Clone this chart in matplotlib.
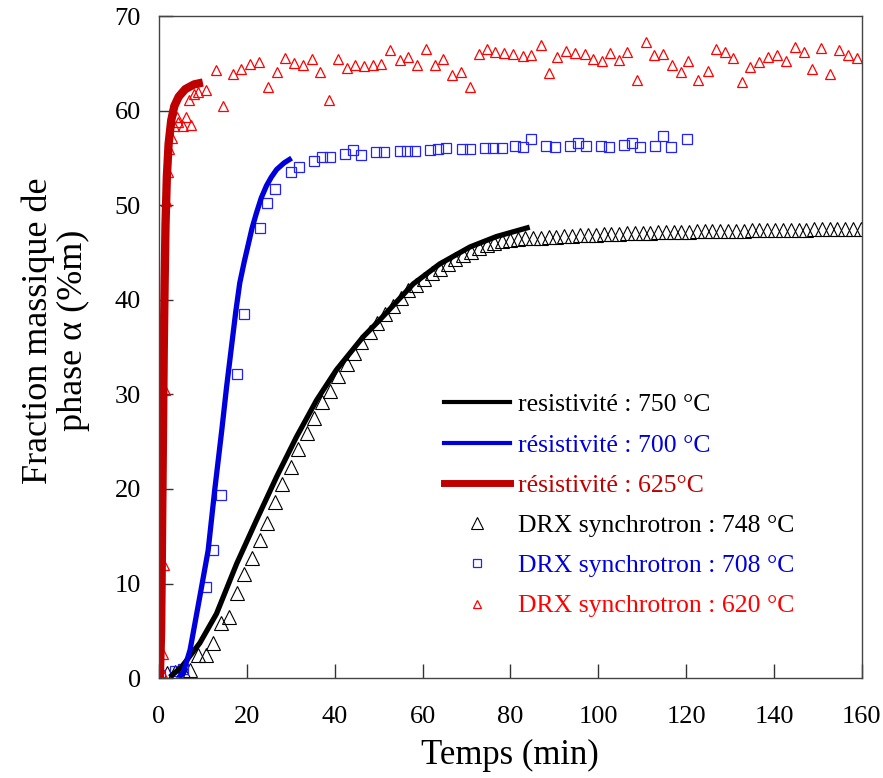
import matplotlib
matplotlib.use("Agg")
import matplotlib.pyplot as plt
from matplotlib.lines import Line2D

plt.rcParams['font.family'] = ['Liberation Serif', 'DejaVu Serif']

# resistivity curves
res750_x = [2.5, 5.2, 9.3, 13.1, 17.7, 22.2, 26.8, 31.3, 35.9, 40.4, 46.5, 50.3, 57.9, 63.9, 70.8, 76.8, 84.4]
res750_y = [0.1, 1.2, 3.7, 6.8, 12.1, 16.7, 21.3, 25.5, 29.4, 32.6, 36.1, 37.9, 41.7, 43.8, 45.6, 46.7, 47.7]

res700_x = [4.5, 5.5, 7.1, 9.3, 11.2, 12.7, 14.3, 15.4, 16.5, 17.5, 18.4, 19.4, 20.3, 21.2, 22.2,
            23.3, 24.5, 25.6, 26.8, 28.5, 30.2]
res700_y = [0.0, 0.5, 3.0, 8.6, 13.5, 19.9, 26.2, 30.8, 35.0, 38.8, 41.8, 44.0, 45.8, 47.6, 49.2,
            50.8, 52.1, 53.0, 53.8, 54.5, 55.0]

res625_x = [0.2, 0.5, 0.7, 0.9, 1.1, 1.3, 1.5, 1.8, 2.2, 2.8, 3.5, 4.5, 6.0, 8.0, 10.0]
res625_y = [0.0, 5.0, 15.0, 25.0, 35.0, 42.0, 48.0, 53.0, 56.5, 59.0, 60.5, 61.5, 62.3, 62.8, 63.0]

# DRX synchrotron 748 C
drx748_x = [0, 1.8, 3.6, 5.4, 7.1, 8.9, 10.7, 12.4, 14.1, 15.9, 17.7, 19.4, 21.2, 23.0, 24.6,
            26.5, 28.1, 30.0, 31.7, 33.6, 35.3, 37.2, 38.9, 40.8, 42.7, 44.4, 46.1, 48.0, 49.7,
            51.5, 53.3, 55.0, 56.8, 58.6, 60.4, 62.1, 63.9, 65.7, 67.5, 69.2, 71.0, 72.8, 74.6,
            76.3, 78.1, 79.9, 81.7, 83.4, 85.2, 87.0, 88.8, 90.5, 92.3, 94.1, 95.9, 97.6, 99.4,
            101.2, 103.0, 104.7, 106.5, 108.3, 110.1, 111.8, 113.6, 115.4, 117.2, 118.9, 120.7,
            122.5, 124.3, 126.0, 127.8, 129.6, 131.4, 133.1, 134.9, 136.7, 138.5, 140.2, 142.0,
            143.8, 145.6, 147.3, 149.1, 150.9, 152.7, 154.4, 156.2, 158.0, 159.8]
drx748_y = [0.3, 0.5, 0.6, 0.7, 0.9, 2.4, 2.4, 3.7, 5.8, 6.5, 9.0, 11.0, 12.7, 14.6, 16.4,
            18.6, 20.5, 22.3, 24.2, 25.9, 27.5, 29.2, 30.4, 32.0, 33.2, 34.4, 35.6, 36.6, 37.6,
            38.5, 39.4, 40.2, 41.0, 41.6, 42.2, 42.8, 43.3, 43.8, 44.3, 44.7, 45.1, 45.5, 45.8,
            46.0, 46.2, 46.3, 46.4, 46.5, 46.55, 46.6, 46.65, 46.7, 46.75, 46.8, 46.85, 46.9, 46.9,
            46.95, 47.0, 47.0, 47.05, 47.1, 47.1, 47.1, 47.15, 47.15, 47.2, 47.2, 47.2,
            47.25, 47.25, 47.25, 47.3, 47.3, 47.3, 47.3, 47.35, 47.35, 47.35, 47.35, 47.4,
            47.4, 47.4, 47.4, 47.45, 47.45, 47.45, 47.5, 47.5, 47.5, 47.5]

# DRX synchrotron 708 C
drx708_x = [0.2, 3.6, 5.5, 10.7, 12.4, 14.1, 17.7, 19.4, 23.0, 24.6, 26.5, 30.0, 31.8, 35.3,
            37.1, 38.9, 42.4, 44.2, 45.9, 49.5, 51.3, 54.8, 56.5, 58.2, 61.8, 63.6, 65.3,
            68.9, 70.8, 74.2, 76.0, 78.0, 81.1, 82.9, 84.8, 88.2, 90.1, 93.5, 95.4, 97.2,
            100.6, 102.5, 105.8, 107.6, 109.5, 112.9, 114.8, 116.6, 120.1]
drx708_y = [0.3, 0.7, 1.0, 9.6, 13.5, 19.4, 32.2, 38.5, 47.6, 50.3, 51.7, 53.5, 54.1, 54.7,
            55.1, 55.1, 55.4, 55.9, 55.3, 55.6, 55.6, 55.8, 55.8, 55.8, 55.9, 56.0, 56.1,
            56.0, 56.0, 56.1, 56.1, 56.1, 56.3, 56.2, 57.0, 56.3, 56.2, 56.3, 56.6, 56.3,
            56.3, 56.2, 56.4, 56.6, 56.2, 56.3, 57.3, 56.2, 57.0]

# DRX synchrotron 620 C
drx620_x = [0.0, 0.6, 1.0, 1.1, 1.3, 1.5, 2.0, 2.4, 3.0, 3.5, 4.0, 4.3, 5.4, 6.1, 7.2, 6.9,
            8.0, 8.9, 10.7, 13.0, 14.6, 16.8, 18.7, 20.7, 22.7, 24.8, 26.9, 28.7, 30.7, 32.7,
            34.8, 36.6, 38.7, 40.7, 42.7, 44.7, 46.7, 48.8, 50.6, 52.7, 54.8, 56.7, 58.7, 60.8,
            62.8, 64.6, 66.7, 68.7, 70.8, 72.8, 74.6, 76.6, 78.6, 80.7, 82.8, 84.8, 86.9, 88.7,
            90.7, 92.7, 94.7, 96.9, 98.8, 100.8, 102.6, 104.7, 106.6, 108.8, 110.8, 112.7,
            114.7, 116.7, 118.8, 120.5, 122.7, 124.9, 126.7, 128.8, 130.7, 132.8, 134.6, 136.6,
            138.7, 140.7, 142.7, 144.7, 146.8, 148.6, 150.7, 152.8, 154.8, 156.8, 158.8]
drx620_y = [0.3, 0.5, 2.5, 12.0, 30.5, 50.5, 53.5, 56.0, 57.1, 58.4, 59.3, 58.8, 58.4, 59.4,
            58.5, 61.2, 61.8, 62.0, 62.2, 64.3, 60.5, 63.9, 64.4, 65.0, 65.2, 62.5, 64.1, 65.6,
            65.1, 64.9, 65.5, 64.1, 61.1, 65.5, 64.5, 64.8, 64.7, 64.9, 65.0, 66.4, 65.4, 65.7,
            64.9, 66.5, 64.8, 65.5, 63.8, 64.1, 62.5, 66.0, 66.5, 66.2, 66.1, 66.0, 65.8, 65.9,
            67.0, 64.0, 65.7, 66.3, 66.1, 66.0, 65.5, 65.3, 66.1, 65.4, 66.2, 63.3, 67.3, 65.9,
            66.0, 64.8, 64.1, 65.3, 63.3, 64.2, 66.5, 66.2, 65.6, 63.1, 64.6, 65.2, 65.7, 65.9,
            65.3, 66.8, 66.2, 64.4, 66.7, 63.9, 66.4, 65.9, 65.6]

labels = ['resistivité : 750 °C', 'résistivité : 700 °C', 'résistivité : 625°C',
          'DRX synchrotron : 748 °C', 'DRX synchrotron : 708 °C', 'DRX synchrotron : 620 °C']

fig = plt.figure(figsize=(8.83, 7.78), dpi=100)
ax = fig.add_axes([0.180, 0.1285, 0.796, 0.8505])

ax.plot(drx748_x, drx748_y, linestyle='none', marker='^', markersize=9.5,
        markerfacecolor='none', markeredgecolor='black', markeredgewidth=0.8)
ax.plot(drx708_x, drx708_y, linestyle='none', marker='s', markersize=7,
        markerfacecolor='none', markeredgecolor='#2222ff', markeredgewidth=0.9)
ax.plot(drx620_x, drx620_y, linestyle='none', marker='^', markersize=7.5,
        markerfacecolor='none', markeredgecolor='#ff0000', markeredgewidth=0.9)

ax.plot(res750_x, res750_y, color='black', lw=3.8, solid_capstyle='butt')
ax.plot(res700_x, res700_y, color='#0000dd', lw=3.8, solid_capstyle='butt')
ax.plot(res625_x, res625_y, color='#c00000', lw=6, solid_capstyle='butt')

ax.set_xlim(0, 160)
ax.set_ylim(0, 70)
ax.set_xticks(range(0, 161, 20))
ax.set_yticks(range(0, 71, 10))
ax.tick_params(direction='in', length=10, width=1, labelsize=19, color='#333333')
ax.tick_params(axis='x', pad=20)
ax.tick_params(axis='y', pad=13)
for s in ax.spines.values():
    s.set_color('#444444')
    s.set_linewidth(1)

ax.set_xlabel('Temps (min)', fontsize=25, labelpad=8)
ax.set_ylabel('Fraction massique de\nphase α (%m)', fontsize=26, linespacing=1.1,
              va='center', ha='center')
ax.yaxis.set_label_coords(-0.147, 0.525)

handles = [
    Line2D([], [], color='black', lw=3),
    Line2D([], [], color='#0000dd', lw=3),
    Line2D([], [], color='#c00000', lw=5),
    Line2D([], [], linestyle='none', marker='^', markersize=8, markerfacecolor='none',
           markeredgecolor='black', markeredgewidth=0.8),
    Line2D([], [], linestyle='none', marker='s', markersize=6, markerfacecolor='none',
           markeredgecolor='#2222ff', markeredgewidth=0.9),
    Line2D([], [], linestyle='none', marker='^', markersize=5.5, markerfacecolor='none',
           markeredgecolor='#ff0000', markeredgewidth=0.9),
]
leg = ax.legend(handles, labels, loc='upper left', bbox_to_anchor=(0.405, 0.43),
                frameon=False, fontsize=18.5, handlelength=2.6, handletextpad=0.3,
                labelspacing=0.67, borderpad=0, borderaxespad=0)
for t, c in zip(leg.get_texts(), ['black', '#0000dd', '#c00000', 'black', '#0000dd', '#ff0000']):
    t.set_color(c)

fig.savefig('out.png', dpi=100)
